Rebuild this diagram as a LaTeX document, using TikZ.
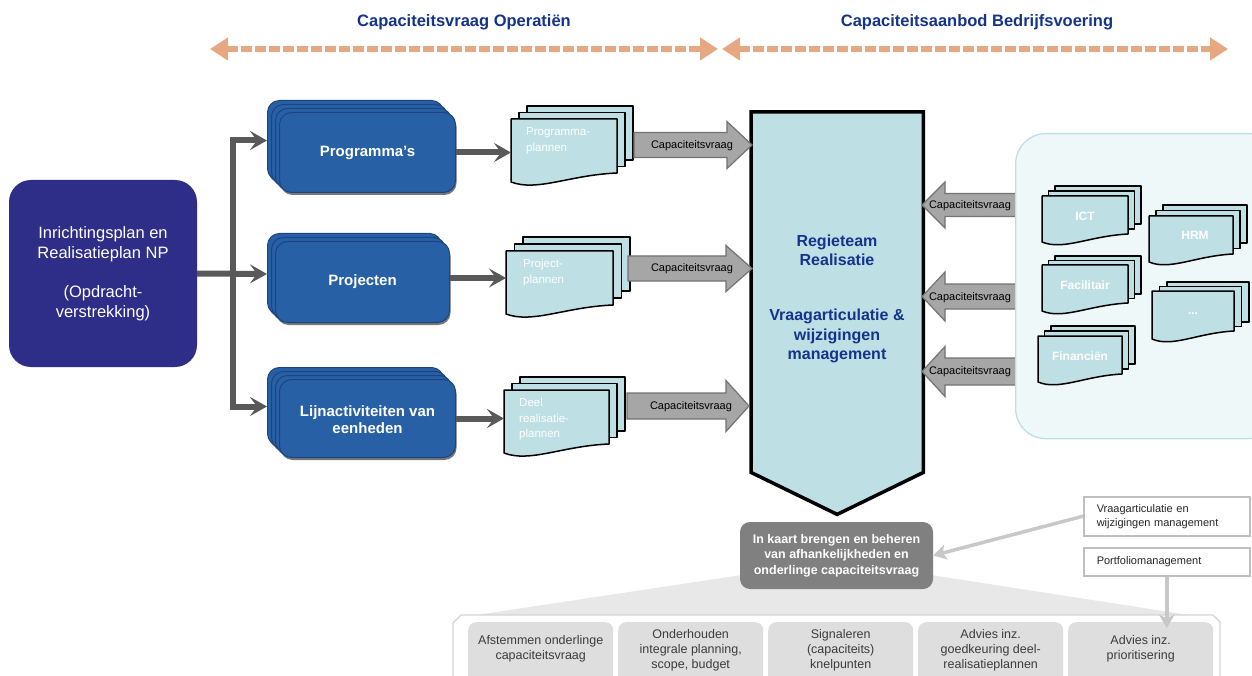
\documentclass[tikz,border=0pt]{standalone}
\usepackage{fontspec}
\setmainfont{Liberation Sans}
\usetikzlibrary{arrows.meta,calc,shadows}

\definecolor{titleblue}{RGB}{20,52,140}
\definecolor{navy}{RGB}{46,45,136}
\definecolor{boxblue}{RGB}{40,96,166}
\definecolor{boxblueedge}{RGB}{28,68,128}
\definecolor{cyanlight}{RGB}{190,224,228}
\definecolor{panelfill}{RGB}{239,248,248}
\definecolor{blockfill}{RGB}{166,166,166}
\definecolor{blockedge}{RGB}{115,115,115}
\definecolor{conngray}{RGB}{89,89,89}
\definecolor{salmon}{RGB}{230,168,128}
\definecolor{kaartgray}{RGB}{128,128,128}
\definecolor{lgarrowc}{RGB}{200,200,200}
\definecolor{cellgray}{RGB}{222,222,222}
\definecolor{funnelgray}{RGB}{232,232,232}
\definecolor{contedge}{RGB}{212,212,212}
\definecolor{celltextc}{RGB}{60,60,60}
\definecolor{boxedge}{RGB}{191,191,191}

\newcommand{\fsz}[2]{\fontsize{#1}{#2}\selectfont}

% name x y w h dx dy wave
\newcommand{\docstack}[8]{%
  \draw[docpage] ({#2+2*(#6)},{#3+2*(#7)}) rectangle ++(#4,#5);
  \draw[docpage] ({#2+(#6)},{#3+(#7)}) rectangle ++(#4,#5);
  \draw[docpage] (#2,#3) -- ({#2+#4},#3) -- ({#2+#4},{#3+#5})
     .. controls ({#2+0.55*#4},{#3+#5+2}) and ({#2+0.25*#4},{#3+#5+2.1*#8}) .. (#2,{#3+#5+#8}) -- cycle;
  \node[inner sep=0pt, outer sep=0pt, minimum width=#4pt, minimum height=#5pt, anchor=north west] (#1) at (#2,#3) {};
}
% x0 xh xt yc bh hh
\newcommand{\blockarr}[6]{%
  \draw[blockarrow] (#1,{#4-#5}) -- (#2,{#4-#5}) -- (#2,{#4-#6}) -- (#3,#4) -- (#2,{#4+#6}) -- (#2,{#4+#5}) -- (#1,{#4+#5}) -- cycle;
}

\tikzset{
 title/.style={font=\fsz{16.5}{20}\bfseries, text=titleblue, inner sep=0pt},
 dasharrow/.style={draw=salmon, line width=6pt, dash pattern=on 11pt off 3pt, {Triangle[length=18pt,width=22pt]}-{Triangle[length=18pt,width=22pt]}},
 navybox/.style={fill=navy, rounded corners=22pt, text=white, font=\fsz{16.5}{20}, align=center, inner sep=0pt},
 bluebox/.style={fill=boxblue, draw=boxblueedge, line width=1pt, rounded corners=12pt, inner sep=0pt, anchor=north west, drop shadow={shadow xshift=1pt, shadow yshift=-2.5pt, fill=black!75, opacity=0.7}},
 bluetext/.style={text=white, font=\fsz{15}{17.5}\bfseries, align=center, inner sep=0pt},
 conn/.style={draw=conngray, line width=6pt, line join=miter, -{Stealth[length=17pt,width=19pt,inset=7pt]}},
 docpage/.style={fill=cyanlight, draw=black, line width=1.5pt, line join=round},
 doctext/.style={text=white, font=\fsz{11.5}{15.5}, align=left, inner sep=0pt, anchor=north west},
 blockarrow/.style={fill=blockfill, draw=blockedge, line width=1.2pt},
 blocklabel/.style={font=\fsz{11}{13}, text=black, inner sep=0pt},
 pent/.style={fill=cyanlight, draw=black, line width=3.5pt, line join=miter},
 penttext/.style={text=titleblue, font=\fsz{16}{19.5}\bfseries, align=center, inner sep=0pt},
 panel/.style={fill=panelfill, draw=cyanlight, line width=1.3pt, rounded corners=30pt, inner sep=0pt, anchor=north west},
 rdoctext/.style={text=white, font=\fsz{12}{14}\bfseries, inner sep=0pt},
 kaartbox/.style={fill=kaartgray, rounded corners=10pt, text=white, font=\fsz{12.5}{15.5}\bfseries, align=center, inner sep=0pt},
 smallbox/.style={fill=white, draw=boxedge, line width=1.5pt, inner xsep=13pt, inner ysep=0pt, align=left, font=\fsz{11}{14}, text=black!85, anchor=north west, text width=140pt},
 lgarrow/.style={draw=lgarrowc, line width=3.5pt, -{Stealth[length=13pt,width=15pt,inset=3pt]}},
 funnel/.style={fill=funnelgray},
 cont/.style={fill=white, draw=contedge, line width=1.2pt},
 cell/.style={fill=cellgray, rounded corners=8pt, inner sep=0pt, anchor=north west, minimum width=145pt, minimum height=70pt},
 celltext/.style={text=celltextc, font=\fsz{12.5}{15}, align=center, inner sep=0pt},
}

\begin{document}
\begin{tikzpicture}[x=1pt,y=-1pt]
\path[use as bounding box] (0,0) rectangle (1252,676);
\clip (0,0) rectangle (1252,676);
\fill[white] (0,0) rectangle (1252,676);

% ---------- titles and dashed arrows
\node[title] (t1) at (464,22) {Capaciteitsvraag Operatiën};
\node[title] (t2) at (977,22) {Capaciteitsaanbod Bedrijfsvoering};
\coordinate (d1a) at (210,49);
\coordinate (d1b) at (718,49);
\coordinate (d2a) at (722,49);
\coordinate (d2b) at (1228,49);
\draw[dasharrow] (d1a) -- (d1b);
\draw[dasharrow] (d2a) -- (d2b);

% ---------- left box
\node[navybox, minimum width=188pt, minimum height=187pt] (inr) at (103,273.5)
  {Inrichtingsplan en\\Realisatieplan NP\\[19pt](Opdracht-\\verstrekking)};

% ---------- blue stacks
\foreach \k in {0,1,2,3}
  \node[bluebox, minimum width=176pt, minimum height=80pt] (prog\k) at ({267+4*\k},{100+4*\k}) {};
\node[bluetext] (progT) at (prog3.center) {Programma’s};

\foreach \k in {0,1,2}
  \node[bluebox, minimum width=174pt, minimum height=81pt] (proj\k) at ({267+4*\k},{233+4*\k}) {};
\node[bluetext] (projT) at (proj2.center) {Projecten};

\foreach \k in {0,1,2,3}
  \node[bluebox, minimum width=176pt, minimum height=78pt] (lijn\k) at ({267+4*\k},{367+4*\k}) {};
\node[bluetext] (lijnT) at ($(lijn3.center)+(0,1)$) {Lijnactiviteiten van\\eenheden};

% ---------- connectors from left box
\coordinate (tr) at (233,273.5);
\draw[conn] (inr.east) -- (proj0.west);
\draw[conn] (tr) |- (prog0.west);
\draw[conn] (tr) |- (lijn0.west);

% ---------- document stacks (middle)
\docstack{docP}{511}{119}{106}{54}{8}{-6.5}{9}
\docstack{docJ}{506}{251}{107}{54}{8.5}{-7}{9}
\docstack{docD}{504}{390}{105}{54}{8}{-6.5}{9}
\node[doctext] (docPt) at ($(docP.north west)+(15,8.5)$) {Programma-\\plannen};
\node[doctext] (docJt) at ($(docJ.north west)+(17,8)$) {Project-\\plannen};
\node[doctext] (docDt) at ($(docD.north west)+(15,8)$) {Deel\\realisatie-\\plannen};

\draw[conn] (prog3.east) -- (prog3.east -| docP.west);
\draw[conn] ($(proj2.east)+(0,-4)$) -- ($(proj2.east -| docJ.west)+(0,-4)$);
\draw[conn] (lijn3.east) -- (lijn3.east -| docD.west);

% ---------- central pentagon
\node[inner sep=0pt, minimum width=172pt, minimum height=360pt, anchor=north west] (regie) at (751,112) {};
\draw[pent] (regie.north west) -- (regie.north east) -- (regie.south east) -- ($(regie.south)+(0,42)$) -- (regie.south west) -- cycle;
\node[penttext] (regieT) at (837,250.5) {Regieteam\\Realisatie};
\node[penttext] (vraagT) at (837,336) {Vraagarticulatie \&\\wijzigingen\\management};

% ---------- block arrows to the right
\blockarr{634}{727}{752}{145}{12.5}{23.5}
\blockarr{628}{726}{752}{268.5}{12.5}{23}
\blockarr{627}{726}{749}{406}{13}{25.5}
\node[blocklabel] (bl1) at (692,146) {Capaciteitsvraag};
\node[blocklabel] (bl2) at (692,269) {Capaciteitsvraag};
\node[blocklabel] (bl3) at (691,407) {Capaciteitsvraag};

% ---------- right panel
\blockarr{1017}{945}{922}{205}{11.5}{23}
\blockarr{1017}{945}{922}{296.5}{12.5}{24.5}
\blockarr{1017}{945}{922}{371.5}{13.5}{25}
\node[panel, minimum width=262pt, minimum height=305pt] (panelR) at (1015,133) {};
\node[blocklabel] (bl4) at (970,206) {Capaciteitsvraag};
\node[blocklabel] (bl5) at (970,298) {Capaciteitsvraag};
\node[blocklabel] (bl6) at (970,372) {Capaciteitsvraag};

\docstack{ict}{1042}{196}{86}{38}{6.5}{-5}{8}
\docstack{hrm}{1149}{216}{84}{38}{7}{-5.5}{8}
\docstack{fac}{1042}{265}{86}{38}{6.5}{-4.5}{8}
\docstack{dots}{1152}{291}{82}{40}{7.5}{-4.5}{8}
\docstack{fin}{1038}{336}{84}{38}{6.5}{-5}{8}
\node[rdoctext] (ictT) at ($(ict.center)+(0,1)$) {ICT};
\node[rdoctext] (hrmT) at ($(hrm.center)+(4,0)$) {HRM};
\node[rdoctext] (facT) at ($(fac.center)+(0,1)$) {Facilitair};
\node[rdoctext] (dotsT) at ($(dots.center)+(0,3)$) {...};
\node[rdoctext] (finT) at ($(fin.center)+(0,1)$) {Financiën};

% ---------- bottom
\fill[funnel] (742,575) -- (470,616) -- (1195,616) -- (931,575) -- cycle;
\filldraw[cont] (453,700) -- (453,623) -- (461,615) -- (1213,615) -- (1220,622) -- (1220,700) -- cycle;
\node[cell] (c1) at (468,622) {};
\node[cell] (c2) at (618,622) {};
\node[cell] (c3) at (768,622) {};
\node[cell] (c4) at (918,622) {};
\node[cell] (c5) at (1068,622) {};
\node[celltext] (c1t) at ($(c1.north)+(0,27)$) {Afstemmen onderlinge\\capaciteitsvraag};
\node[celltext] (c2t) at ($(c2.north)+(0,28)$) {Onderhouden\\integrale planning,\\scope, budget};
\node[celltext] (c3t) at ($(c3.north)+(0,28)$) {Signaleren\\(capaciteits)\\knelpunten};
\node[celltext] (c4t) at ($(c4.north)+(0,28)$) {Advies inz.\\goedkeuring deel-\\realisatieplannen};
\node[celltext] (c5t) at ($(c5.north)+(0,27)$) {Advies inz.\\prioritisering};

\node[kaartbox, minimum width=193pt, minimum height=67pt] (kaart) at (836.5,555.5)
  {In kaart brengen en beheren\\van afhankelijkheden en\\onderlinge capaciteitsvraag};

\node[smallbox, minimum height=39pt] (vraagbox) at (1083,496) {Vraagarticulatie en\\wijzigingen management};
\node[smallbox, minimum height=28pt] (portf) at (1083,547) {Portfoliomanagement};

\draw[lgarrow] (vraagbox.west) -- (kaart.east);
\draw[lgarrow] (portf.south) -- ($(portf.south |- c5.north)+(0,6)$);
\end{tikzpicture}
\end{document}
